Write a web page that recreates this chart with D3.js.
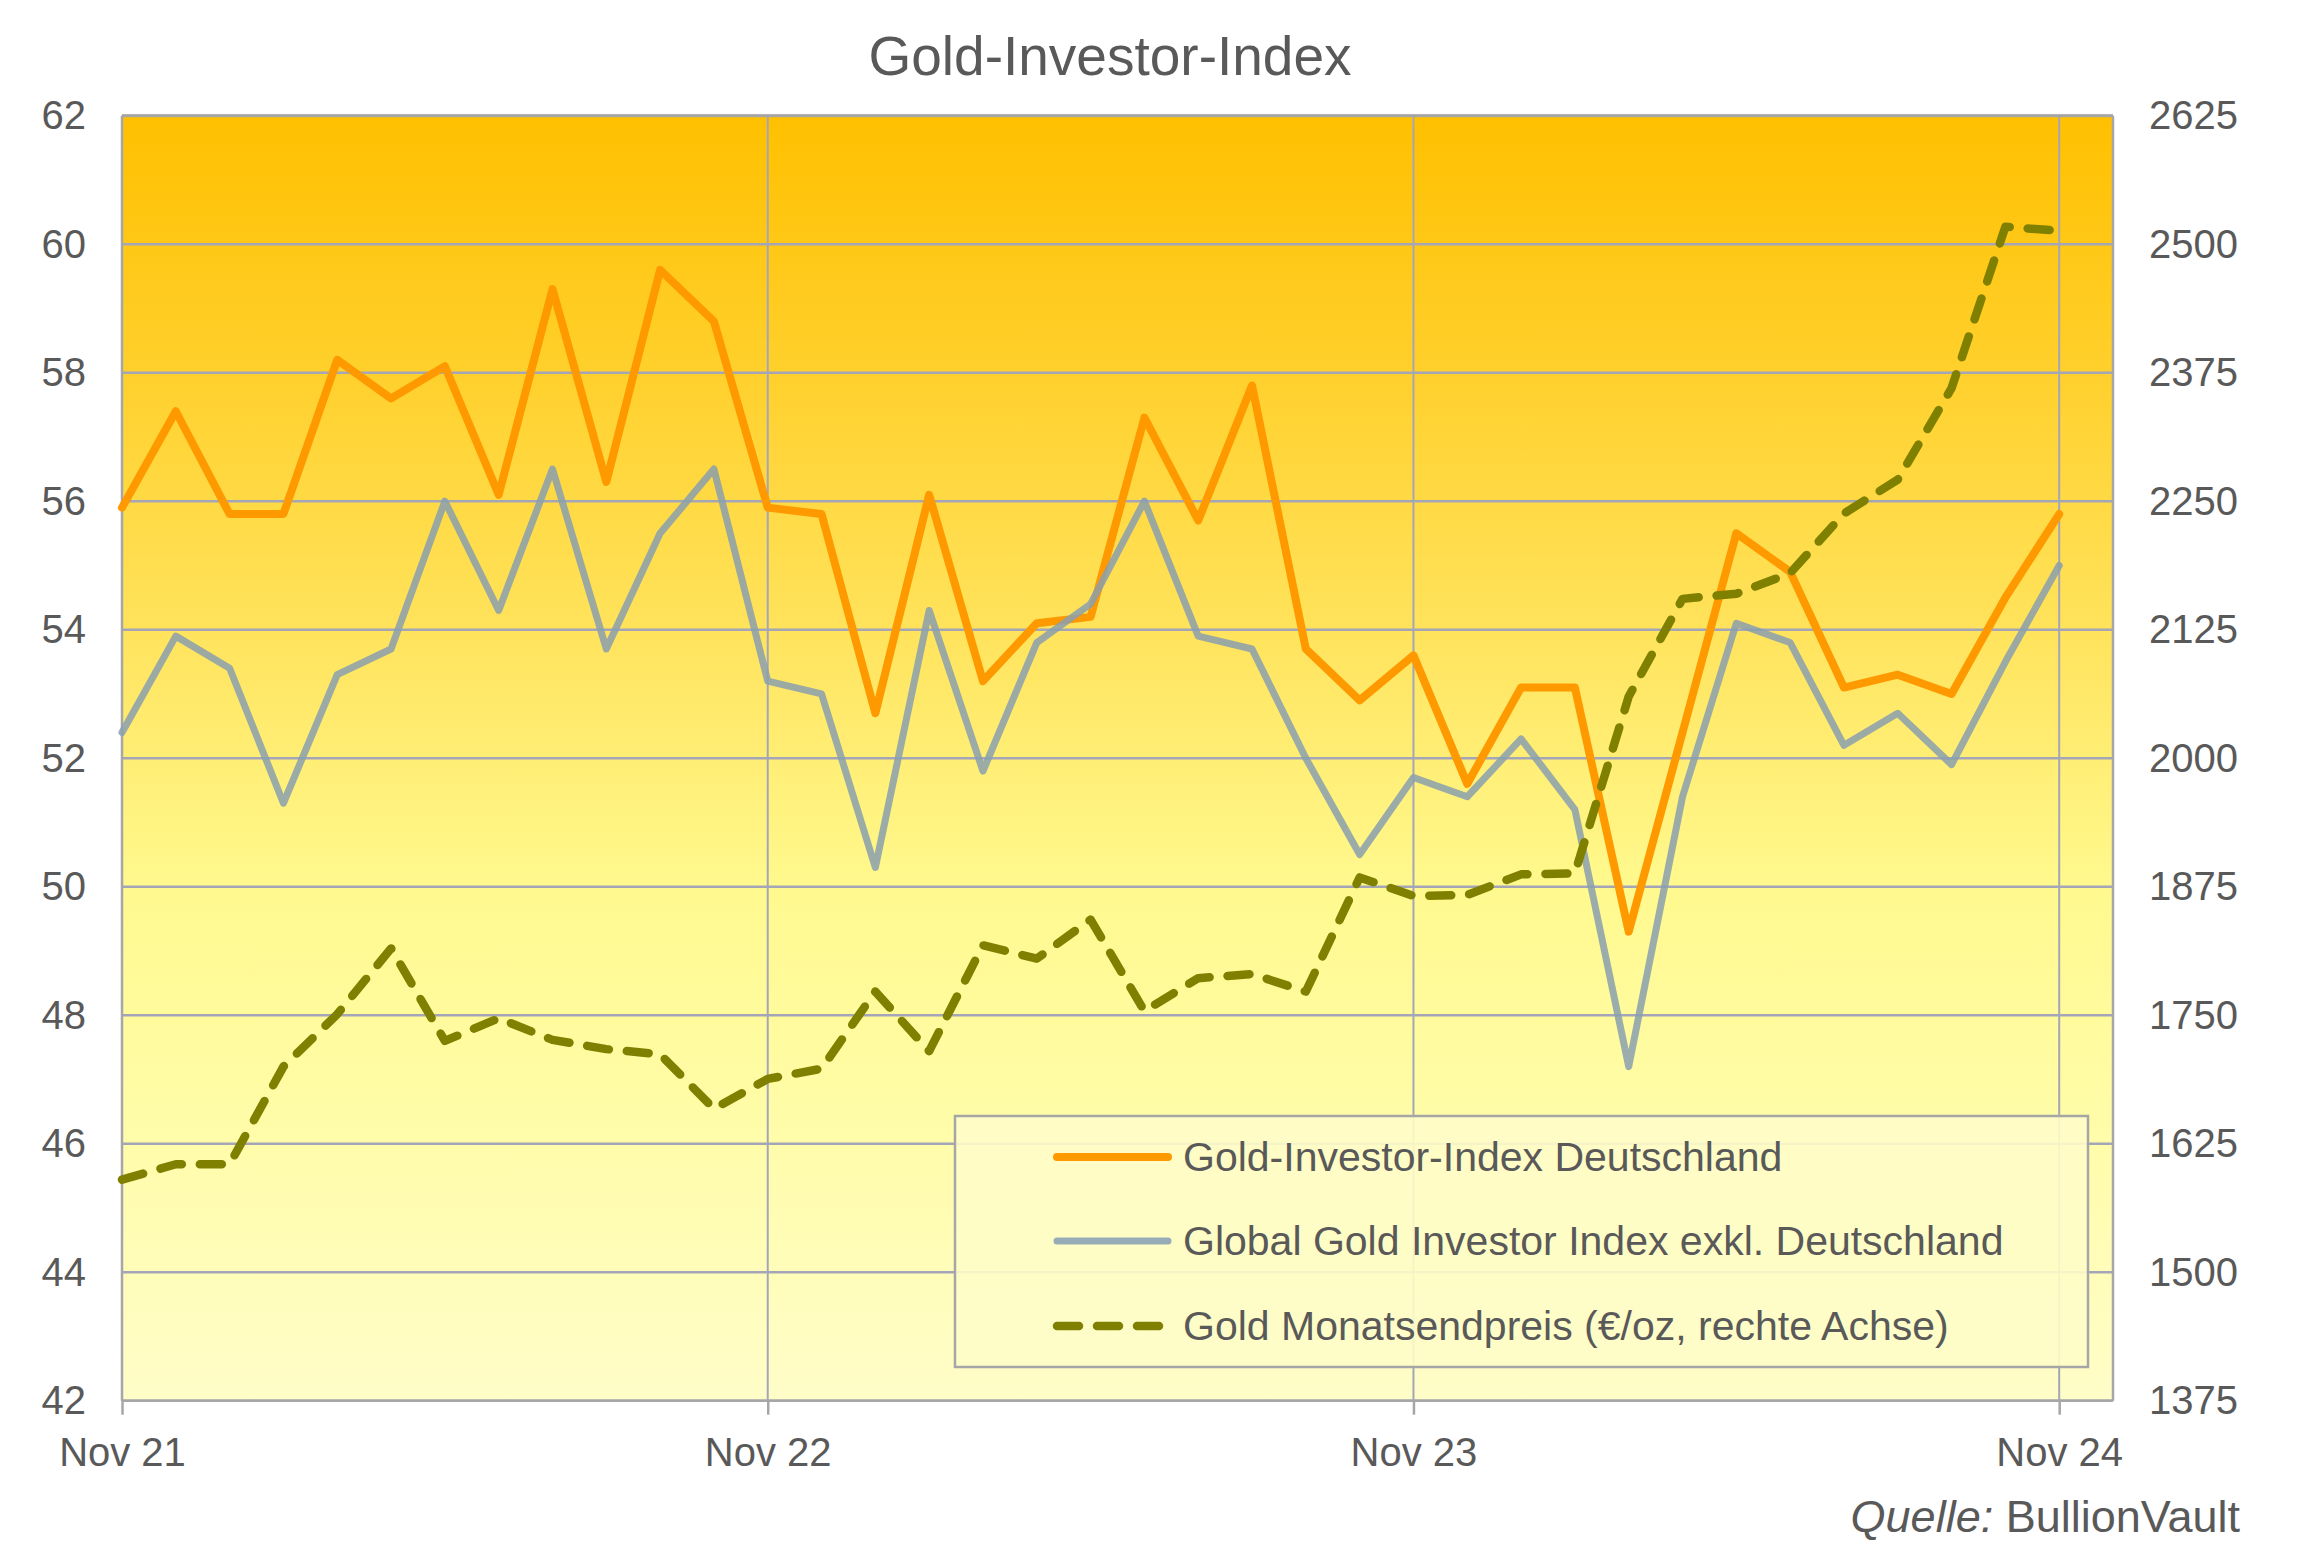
<!DOCTYPE html>
<html><head><meta charset="utf-8">
<script src="https://cdn.jsdelivr.net/npm/d3@7"></script>
<style>body{margin:0;background:#fff}</style>
</head><body>
<svg id="chart" width="2305" height="1558"></svg>
<script>
// ---------- DATA ----------
const months = ["Nov 21","Dez 21","Jan 22","Feb 22","Mär 22","Apr 22","Mai 22","Jun 22","Jul 22","Aug 22","Sep 22","Okt 22",
  "Nov 22","Dez 22","Jan 23","Feb 23","Mär 23","Apr 23","Mai 23","Jun 23","Jul 23","Aug 23","Sep 23","Okt 23",
  "Nov 23","Dez 23","Jan 24","Feb 24","Mär 24","Apr 24","Mai 24","Jun 24","Jul 24","Aug 24","Sep 24","Okt 24","Nov 24"];
const germany = [55.9,57.4,55.8,55.8,58.2,57.6,58.1,56.1,59.3,56.3,59.6,58.8,
  55.9,55.8,52.7,56.1,53.2,54.1,54.2,57.3,55.7,57.8,53.7,52.9,
  53.6,51.6,53.1,53.1,49.3,52.4,55.5,54.9,53.1,53.3,53.0,54.5,55.8];
const globalExDe = [52.4,53.9,53.4,51.3,53.3,53.7,56.0,54.3,56.5,53.7,55.5,56.5,
  53.2,53.0,50.3,54.3,51.8,53.8,54.4,56.0,53.9,53.7,52.0,50.5,
  51.7,51.4,52.3,51.2,47.2,51.4,54.1,53.8,52.2,52.7,51.9,53.5,55.0];
const goldPrice = [1590,1605,1605,1700,1751,1815,1725,1747,1726,1717,1712,1659,
  1688,1698,1773,1715,1818,1805,1843,1754,1786,1790,1773,1884,
  1866,1867,1887,1888,2060,2155,2160,2180,2238,2271,2360,2517,2513];
const leftTicks = [42,44,46,48,50,52,54,56,58,60,62];
const rightTicks = [1375,1500,1625,1750,1875,2000,2125,2250,2375,2500,2625];
const xTickIdx = [0,12,24,36];
const xTickLabels = ["Nov 21","Nov 22","Nov 23","Nov 24"];
const seriesNames = ["Gold-Investor-Index Deutschland",
  "Global Gold Investor Index exkl. Deutschland",
  "Gold Monatsendpreis (€/oz, rechte Achse)"];
const title = "Gold-Investor-Index";

// ---------- LAYOUT ----------
const svg = d3.select("#chart");
const P = {l:122, r:2113, t:115.7, b:1400.7};
const FONT = "'Liberation Sans', Arial, Helvetica, sans-serif";
const TXT = "#595959";
const GRID = "#A4A6B8";

const x = d3.scaleLinear().domain([0, months.length]).range([P.l, P.r]);
const yL = d3.scaleLinear().domain([42,62]).range([P.b, P.t]);
const yR = d3.scaleLinear().domain([1375,2625]).range([P.b, P.t]);

// gradient
const defs = svg.append("defs");
const grad = defs.append("linearGradient").attr("id","bg").attr("x1",0).attr("y1",0).attr("x2",0).attr("y2",1);
[[0,"#FFC000"],[0.2,"#FFD02C"],[0.4,"#FFE35C"],[0.6,"#FFF98E"],[0.78,"#FFFCA8"],[1,"#FFFDC8"]]
  .forEach(([o,c])=>grad.append("stop").attr("offset",o).attr("stop-color",c));

svg.append("rect").attr("x",P.l).attr("y",P.t).attr("width",P.r-P.l).attr("height",P.b-P.t).attr("fill","url(#bg)");

// horizontal gridlines
svg.append("g").selectAll("line").data(leftTicks).join("line")
  .attr("x1",P.l).attr("x2",P.r).attr("y1",d=>yL(d)).attr("y2",d=>yL(d))
  .attr("stroke",GRID).attr("stroke-width",2.5);
// vertical gridlines
svg.append("g").selectAll("line").data(xTickIdx).join("line")
  .attr("x1",d=>x(d)).attr("x2",d=>x(d)).attr("y1",P.t).attr("y2",P.b)
  .attr("stroke",GRID).attr("stroke-width",2);
// borders
svg.append("line").attr("x1",P.r).attr("x2",P.r).attr("y1",P.t).attr("y2",P.b).attr("stroke","#A6A6A6").attr("stroke-width",2.5);
svg.append("line").attr("x1",P.l).attr("x2",P.r).attr("y1",P.t).attr("y2",P.t).attr("stroke","#A6A6A6").attr("stroke-width",3);
svg.append("line").attr("x1",P.l).attr("x2",P.l).attr("y1",P.t).attr("y2",P.b).attr("stroke","#A6A6A6").attr("stroke-width",2.5);

// axes
function styleAxis(g){
  g.select(".domain").remove();
  g.selectAll("text").attr("font-family",FONT).attr("font-size",40).attr("fill",TXT);
}
svg.append("g").attr("transform",`translate(${P.l},0)`)
  .call(d3.axisLeft(yL).tickValues(leftTicks).tickFormat(d3.format("d")).tickSize(0).tickPadding(36))
  .call(styleAxis);
svg.append("g").attr("transform",`translate(${P.r},0)`)
  .call(d3.axisRight(yR).tickValues(rightTicks).tickFormat(d3.format("d")).tickSize(0).tickPadding(36))
  .call(styleAxis);
const xa = svg.append("g").attr("transform",`translate(0,${P.b})`)
  .call(d3.axisBottom(x).tickValues(xTickIdx).tickFormat((d,i)=>xTickLabels[i]).tickSize(14).tickPadding(23))
  .call(styleAxis);
xa.selectAll(".tick line").attr("stroke","#A6A6A6").attr("stroke-width",2.5);
svg.append("line").attr("x1",P.l).attr("x2",P.r).attr("y1",P.b).attr("y2",P.b).attr("stroke","#A6A6A6").attr("stroke-width",2.5);

// series
const lineL = d3.line().x((d,i)=>x(i)).y(d=>yL(d));
const lineR = d3.line().x((d,i)=>x(i)).y(d=>yR(d));
svg.append("path").datum(germany).attr("d",lineL).attr("fill","none")
  .attr("stroke","#FF9900").attr("stroke-width",8).attr("stroke-linejoin","round").attr("stroke-linecap","round");
svg.append("path").datum(globalExDe).attr("d",lineL).attr("fill","none")
  .attr("stroke","#8A9FAE").attr("stroke-opacity",0.85).attr("stroke-width",7).attr("stroke-linejoin","round").attr("stroke-linecap","round");
svg.append("path").datum(goldPrice).attr("d",lineR).attr("fill","none")
  .attr("stroke","#808000").attr("stroke-width",8.5).attr("stroke-dasharray","22 18").attr("stroke-linejoin","round").attr("stroke-linecap","round");

// legend
const lg = svg.append("g");
lg.append("rect").attr("x",955).attr("y",1116).attr("width",1133).attr("height",251)
  .attr("fill","#FFFDC8").attr("fill-opacity",0.9).attr("stroke","#A6A6A6").attr("stroke-width",2.5);
const legRows = [
  {name:seriesNames[0], y:1157, color:"#FF9900", w:8, op:1, dash:null},
  {name:seriesNames[1], y:1241, color:"#8DA3B5", w:7, op:0.9, dash:null},
  {name:seriesNames[2], y:1326, color:"#808000", w:8.5, op:1, dash:"22 18"}
];
legRows.forEach(r=>{
  lg.append("line").attr("x1",1057).attr("x2",1168).attr("y1",r.y).attr("y2",r.y)
    .attr("stroke",r.color).attr("stroke-width",r.w).attr("stroke-opacity",r.op)
    .attr("stroke-linecap","round").attr("stroke-dasharray",r.dash);
  lg.append("text").attr("x",1183).attr("y",r.y+14).text(r.name)
    .attr("font-family",FONT).attr("font-size",41).attr("fill",TXT);
});

// title
svg.append("text").attr("x",1110).attr("y",75).attr("text-anchor","middle").text(title)
  .attr("font-family",FONT).attr("font-size",55).attr("fill",TXT);

// source
const src = svg.append("text").attr("x",2240).attr("y",1532).attr("text-anchor","end")
  .attr("font-family",FONT).attr("font-size",45).attr("fill",TXT);
src.append("tspan").attr("font-style","italic").text("Quelle:");
src.append("tspan").text(" BullionVault");
</script>
</body></html>
